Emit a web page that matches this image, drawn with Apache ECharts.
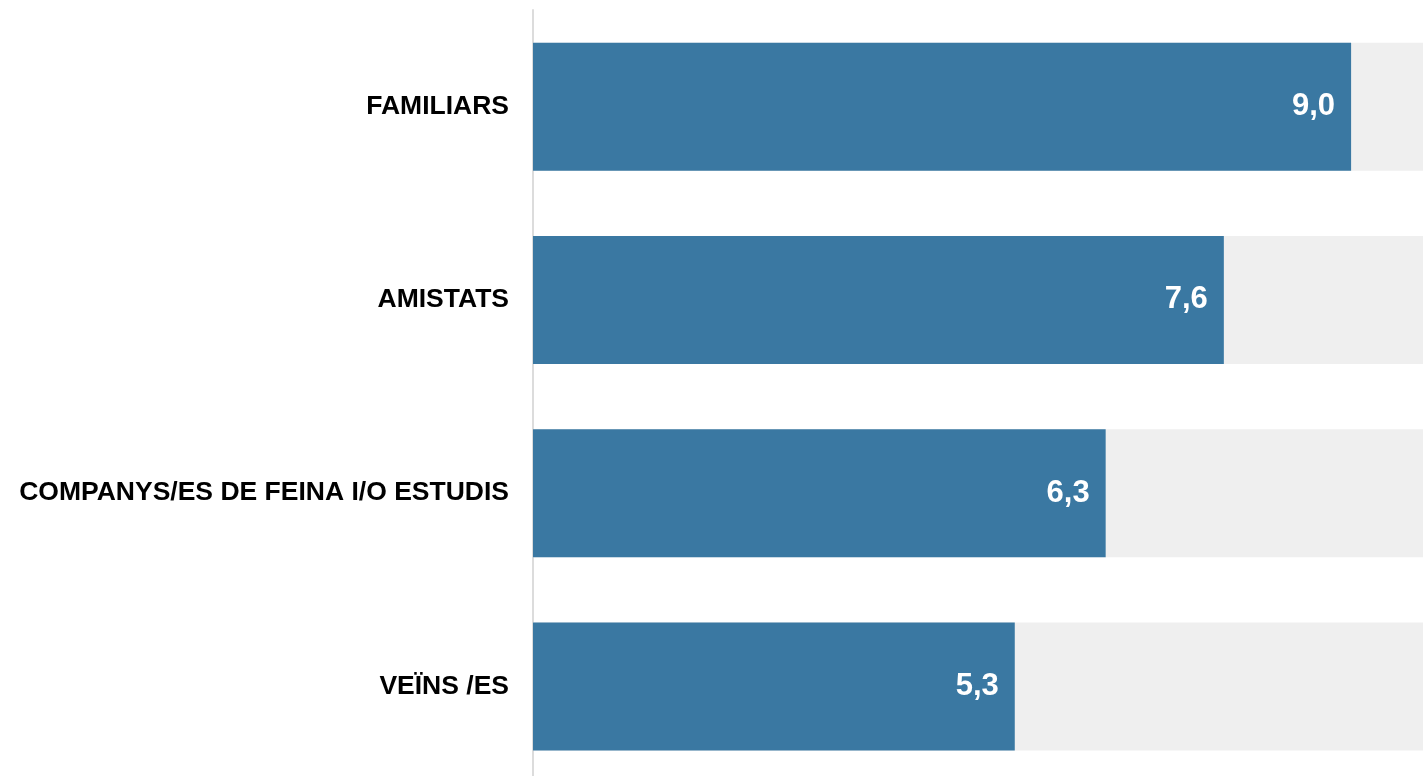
<!DOCTYPE html>
<html>
<head>
<meta charset="utf-8">
<title>Valoració de les relacions</title>
<script src="https://cdn.jsdelivr.net/npm/echarts@6/dist/echarts.min.js"></script>
<style>
  html, body { margin: 0; padding: 0; background: #ffffff; overflow: hidden; }
  #chart { width: 1423px; height: 776px; }
</style>
</head>
<body>
<div id="chart"></div>
<script>
// Categories, top to bottom
const categories = ['FAMILIARS', 'AMISTATS', 'COMPANYS/ES DE FEINA I/O ESTUDIS', 'VEÏNS /ES'];
// Average score (0-10 scale)
const scores = [9.0, 7.6, 6.3, 5.3];
const scaleMax = 10;

const chart = echarts.init(document.getElementById('chart'));
chart.setOption({
  animation: false,
  // the plot runs a little past the right and bottom edges of the canvas
  grid: { left: 533, top: 10, width: 909, height: 773, outerBoundsMode: 'none' },
  xAxis: {
    type: 'value',
    min: 0,
    max: scaleMax,
    show: false
  },
  yAxis: {
    type: 'category',
    data: categories,
    inverse: true,
    axisLine: { show: true, lineStyle: { color: '#dcdcdc', width: 2 } },
    axisTick: { show: false },
    axisLabel: {
      margin: 24,
      color: '#000000',
      fontFamily: 'Liberation Sans, Arial, sans-serif',
      fontWeight: 'bold',
      fontSize: 26.5
    }
  },
  series: [{
    type: 'bar',
    data: scores,
    barWidth: 128,
    itemStyle: { color: '#3a78a2' },
    showBackground: true,
    backgroundStyle: { color: '#efefef' },
    label: {
      show: true,
      position: 'insideRight',
      distance: 16,
      color: '#ffffff',
      fontFamily: 'Liberation Sans, Arial, sans-serif',
      fontWeight: 'bold',
      fontSize: 31,
      formatter: p => p.value.toFixed(1).replace('.', ',')
    }
  }]
});
</script>
</body>
</html>
